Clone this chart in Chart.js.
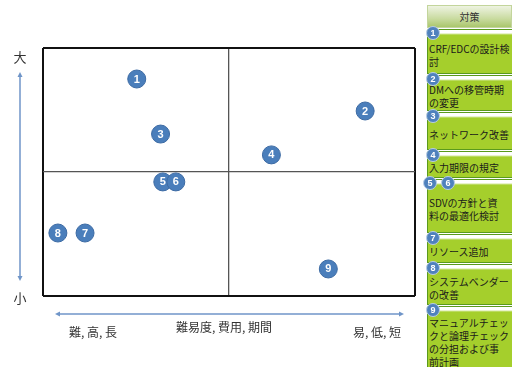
<!DOCTYPE html>
<html>
<head>
<meta charset="utf-8">
<script src="https://cdn.jsdelivr.net/npm/chart.js@4/dist/chart.umd.min.js"></script>
<style>
  html, body { margin:0; padding:0; background:#fff; }
  body { width:512px; height:367px; position:relative; overflow:hidden; font-family:"Noto Sans CJK JP","Noto Sans",sans-serif; }
  #wrap { position:absolute; left:0; top:0; width:425px; height:367px; }
  #panel { position:absolute; left:0; top:0; width:512px; height:367px; pointer-events:none; }
  .hdr { position:absolute; left:427px; width:83px; top:5px; height:21px; border:1px solid #c3d59c;
         background:linear-gradient(#eef3e2,#c9dba0 60%,#aac66c); color:#333; font-size:10px;
         display:flex; align-items:center; justify-content:center; }
  .box { position:absolute; left:427px; width:85px; border:1px solid #5a9a1c; border-right:none; box-sizing:border-box;
         background:linear-gradient(#ffffff 0px,#ffffff 3px,#a5cf2c 5px,#a5cf2c 100%);
         color:#1a1a1a; font-size:10px; line-height:13px; display:flex; flex-direction:column; justify-content:center;
         padding-top:6px; white-space:nowrap; }
  .box span { display:block; padding-left:1px; }
  .badge { position:absolute; width:14px; height:14px; border-radius:50%; background:#4f81bd; border:1px solid #b9cde6;
           box-sizing:border-box; color:#fff; font:bold 9px "Liberation Sans",Arial,sans-serif; display:flex;
           align-items:center; justify-content:center; }
</style>
</head>
<body>
<div id="wrap"><canvas id="c" width="425" height="367"></canvas></div>
<div id="panel"></div>
<script>
// ---- data ----
const pointLabels = ['1','2','3','4','5','6','7','8','9'];
const xValues = [25.2, 86.6, 31.6, 61.4, 32.2, 35.7, 11.3, 4.0, 76.7];
const yValues = [87.5, 74.6, 65.3, 56.9, 46.0, 46.0, 25.4, 25.4, 10.9];
const xTickValues = [0, 50, 100];
const yTickValues = [0, 50, 100];
const yAxisTop = '大';
const yAxisBottom = '小';
const xAxisLeft = '難, 高, 長';
const xAxisMid = '難易度, 費用, 期間';
const xAxisRight = '易, 低, 短';
const panelTitle = '対策';
const measureBadges = [['1'], ['2'], ['3'], ['4'], ['5','6'], ['7'], ['8'], ['9']];
const measureLines = [
  ['CRF/EDCの設計検', '討'],
  ['DMへの移管時期', 'の変更'],
  ['ネットワーク改善'],
  ['入力期限の規定'],
  ['SDVの方針と資', '料の最適化検討'],
  ['リソース追加'],
  ['システムベンダー', 'の改善'],
  ['マニュアルチェッ', 'クと論理チェック', 'の分担および事', '前計画']
];

// ---- right panel (HTML) ----
const boxTops = [29, 75, 112, 151, 179, 234, 264, 306];
const panel = document.getElementById('panel');
const hdr = document.createElement('div');
hdr.className = 'hdr'; hdr.textContent = panelTitle; panel.appendChild(hdr);
measureLines.forEach((lines, i) => {
  const top = boxTops[i];
  const bottom = i < boxTops.length - 1 ? boxTops[i + 1] - 1 : 372;
  const b = document.createElement('div');
  b.className = 'box';
  b.style.top = top + 'px';
  b.style.height = (bottom - top) + 'px';
  lines.forEach(t => { const s = document.createElement('span'); s.textContent = t; b.appendChild(s); });
  panel.appendChild(b);
  const bx = measureBadges[i].length > 1 ? [423, 441] : [426];
  measureBadges[i].forEach((n, k) => {
    const d = document.createElement('div');
    d.className = 'badge';
    d.textContent = n;
    d.style.left = bx[k] + 'px';
    d.style.top = (top - 3) + 'px';
    panel.appendChild(d);
  });
});

// ---- chart ----
const datasets = pointLabels.map((lab, i) => ({
  label: lab,
  data: [{x: xValues[i], y: yValues[i]}],
  order: -i,
  pointRadius: 9,
  pointHoverRadius: 9,
  pointBackgroundColor: '#4a7ebb',
  pointBorderColor: '#3c6aa3',
  pointBorderWidth: 1,
  clip: false
}));

const labelPlugin = {
  id: 'numLabels',
  afterDatasetDraw(chart, args) {
    const ctx = chart.ctx;
    const meta = args.meta;
    const ds = chart.data.datasets[args.index];
    ctx.save();
    ctx.fillStyle = '#ffffff';
    ctx.font = 'bold 11px "Liberation Sans", Arial, sans-serif';
    ctx.textAlign = 'center';
    ctx.textBaseline = 'middle';
    meta.data.forEach(el => ctx.fillText(ds.label, el.x, el.y + 0.5));
    ctx.restore();
  }
};

const axisPlugin = {
  id: 'axisArrows',
  afterDraw(chart) {
    const ctx = chart.ctx;
    const a = chart.chartArea;
    ctx.save();
    ctx.strokeStyle = '#6f95c8';
    ctx.fillStyle = '#6f95c8';
    ctx.lineWidth = 1.5;
    // vertical arrow
    const vx = 20, vy1 = a.top + 27, vy2 = a.bottom - 18;
    ctx.beginPath(); ctx.moveTo(vx, vy1); ctx.lineTo(vx, vy2); ctx.stroke();
    ctx.beginPath(); ctx.moveTo(vx, vy1 - 3); ctx.lineTo(vx - 2.5, vy1 + 2); ctx.lineTo(vx + 2.5, vy1 + 2); ctx.closePath(); ctx.fill();
    ctx.beginPath(); ctx.moveTo(vx, vy2 + 3); ctx.lineTo(vx - 2.5, vy2 - 2); ctx.lineTo(vx + 2.5, vy2 - 2); ctx.closePath(); ctx.fill();
    // horizontal arrow
    const hy = a.bottom + 18, hx1 = a.left + 15, hx2 = a.right - 14;
    ctx.beginPath(); ctx.moveTo(hx1, hy); ctx.lineTo(hx2, hy); ctx.stroke();
    ctx.beginPath(); ctx.moveTo(hx1 - 3, hy); ctx.lineTo(hx1 + 2, hy - 2.5); ctx.lineTo(hx1 + 2, hy + 2.5); ctx.closePath(); ctx.fill();
    ctx.beginPath(); ctx.moveTo(hx2 + 3, hy); ctx.lineTo(hx2 - 2, hy - 2.5); ctx.lineTo(hx2 - 2, hy + 2.5); ctx.closePath(); ctx.fill();
    // labels
    ctx.fillStyle = '#333333';
    ctx.textAlign = 'center';
    ctx.textBaseline = 'middle';
    ctx.font = '13px "Noto Sans CJK JP", sans-serif';
    ctx.fillText(yAxisTop, 20, a.top + 9);
    ctx.fillText(yAxisBottom, 20, a.bottom + 2);
    ctx.font = '12px "Noto Sans CJK JP", sans-serif';
    ctx.fillText(xAxisLeft, 93, a.bottom + 36);
    ctx.fillText(xAxisMid, 224, a.bottom + 31);
    ctx.fillText(xAxisRight, 377, a.bottom + 36);
    ctx.restore();
  }
};

function gridColor(c) {
  const v = c.tick.value;
  if (v === 50) return '#555555';
  return '#111111';
}
function gridWidth(c) {
  return c.tick.value === 50 ? 1.3 : 2;
}

new Chart(document.getElementById('c'), {
  type: 'scatter',
  data: { datasets },
  options: {
    responsive: false,
    animation: false,
    events: [],
    layout: { padding: { left: 43, top: 48, right: 9, bottom: 71 } },
    plugins: { legend: { display: false }, tooltip: { enabled: false }, title: { display: false } },
    scales: {
      x: {
        type: 'linear', min: 0, max: 100,
        afterBuildTicks: s => { s.ticks = xTickValues.map(v => ({ value: v })); },
        ticks: { display: false },
        grid: { color: gridColor, lineWidth: gridWidth, drawTicks: false },
        border: { display: false }
      },
      y: {
        type: 'linear', min: 0, max: 100,
        afterBuildTicks: s => { s.ticks = yTickValues.map(v => ({ value: v })); },
        ticks: { display: false },
        grid: { color: gridColor, lineWidth: gridWidth, drawTicks: false },
        border: { display: false }
      }
    }
  },
  plugins: [labelPlugin, axisPlugin]
});
</script>
</body>
</html>
